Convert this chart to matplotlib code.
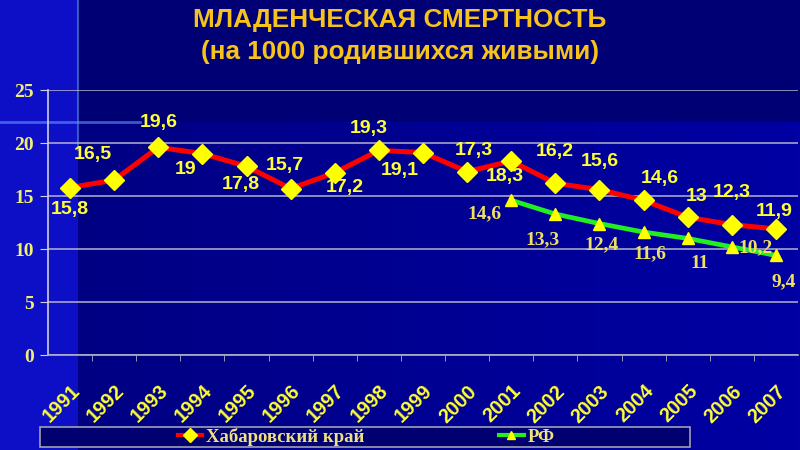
import matplotlib
matplotlib.use("Agg")
import numpy as np
import matplotlib.pyplot as plt
import matplotlib.transforms as mtrans
from matplotlib.lines import Line2D
from matplotlib.patches import Rectangle

years = ["1991", "1992", "1993", "1994", "1995", "1996", "1997", "1998", "1999",
         "2000", "2001", "2002", "2003", "2004", "2005", "2006", "2007"]
khab = [15.8, 16.5, 19.6, 19.0, 17.8, 15.7, 17.2, 19.3, 19.1,
        17.3, 18.3, 16.2, 15.6, 14.6, 13.0, 12.3, 11.9]
rf_years = ["2001", "2002", "2003", "2004", "2005", "2006", "2007"]
rf = [14.6, 13.3, 12.4, 11.6, 11.0, 10.2, 9.4]
yticks = [0, 5, 10, 15, 20, 25]

# label offsets in pixels (dx, dy)
khab_off = [(0, -22), (-21, 26), (0, 25), (-17, -16), (-6, -18), (-6, 23), (10, -15), (-10, 22),
            (-23, -18), (7, 21), (-6, -15), (-1, 32), (0, 28), (16, 22), (9, 21), (0, 32), (-2, 17)]
rf_off = [(-27, -13), (-13, -26), (2, -21), (6, -22), (12, -25), (24, -1), (8, -26)]

def fmt(v):
    return ("%g" % v).replace(".", ",")

fig = plt.figure(figsize=(8, 4.5), dpi=100)
fig.patch.set_facecolor("#000080")

# background image (figure-wide)
bg = fig.add_axes([0, 0, 1, 1], zorder=-20)
bg.set_axis_off()
W, H = 800, 450
img = np.zeros((H, W, 3))
xs = np.linspace(0, 1, W)
base = np.stack([0.0 * xs, 0.0 * xs, 0.50 + 0.14 * xs], axis=1)
img[:, :, :] = base[None, :, :]
img[:122, 78:, :] = [0.0, 0.0, 0.46]
img[:, :78, :] = [0.05, 0.06, 0.78]
bg.imshow(img, extent=[0, 1, 0, 1], aspect="auto", interpolation="bilinear")
# lens flare glow
bg.plot([0, 140 / W], [1 - 122 / H, 1 - 122 / H], color="#6fa0ff", lw=2.0, alpha=0.55)
bg.plot([78 / W, 78 / W], [1.0, 1 - 150 / H], color="#6fa0ff", lw=1.5, alpha=0.5)
bg.set_xlim(0, 1)
bg.set_ylim(0, 1)

ax = fig.add_axes([0.06, 0.211, 0.9375, 0.589])
ax.patch.set_alpha(0)
x = list(range(len(years)))
rx = [years.index(y) for y in rf_years]

ax.plot(x, khab, color="#ff0000", lw=3.6, marker="D", ms=10, mfc="#ffff00",
        mec="#ffff00", zorder=5)
ax.plot(rx, rf, color="#22ee22", lw=3.4, marker="^", ms=8, mfc="#ffff00",
        mec="#ffff00", zorder=4)

for xi, v, (dx, dy) in zip(x, khab, khab_off):
    ax.annotate(fmt(v), (xi, v), xytext=(dx, dy), textcoords="offset pixels",
                ha="center", va="center", color="#ffff33", fontsize=14,
                fontweight="bold", family="Liberation Sans", zorder=6)
for xi, v, (dx, dy) in zip(rx, rf, rf_off):
    ax.annotate(fmt(v), (xi, v), xytext=(dx, dy), textcoords="offset pixels",
                ha="center", va="center", color="#f0e060", fontsize=14,
                fontweight="bold", family="Liberation Serif", zorder=6)

ax.set_xlim(-0.5, len(years) - 0.5)
ax.set_ylim(0, 25)
ax.set_yticks(yticks)
ax.set_yticklabels([str(t) for t in yticks], color="#f0f070", fontsize=14,
                   fontweight="bold", family="Liberation Serif")
ax.grid(axis="y", color="#b4b4cc", lw=1.1)
ax.set_axisbelow(True)
for s in ["top", "right"]:
    ax.spines[s].set_visible(False)
ax.spines["left"].set_color("#d0d0e0")
ax.spines["left"].set_linewidth(1.2)
ax.spines["bottom"].set_color("#b0b0c8")
ax.spines["bottom"].set_linewidth(1.2)
ax.tick_params(axis="y", length=6, color="#d0d0e0", pad=4)
ax.set_xticks(x)
ax.set_xticks([i + 0.5 for i in range(len(years) - 1)], minor=True)
ax.set_xticklabels(years, rotation=45, ha="right", va="top",
                   rotation_mode="anchor", color="#ffff33", fontsize=14.3,
                   fontweight="bold", family="Liberation Sans")
off = mtrans.ScaledTranslation(-12 / 100, 0, fig.dpi_scale_trans)
for lab in ax.get_xticklabels():
    lab.set_transform(lab.get_transform() + off)
ax.tick_params(axis="x", which="major", length=0, pad=19)
ax.tick_params(axis="x", which="minor", length=4, color="#b0b0c8")

fig.text(0.5, 0.955, "МЛАДЕНЧЕСКАЯ СМЕРТНОСТЬ", ha="center", va="center",
         color="#f7c21a", fontsize=18.8, fontweight="bold", family="Liberation Sans")
fig.text(0.5, 0.884, "(на 1000 родившихся живыми)", ha="center", va="center",
         color="#f7c21a", fontsize=18.8, fontweight="bold", family="Liberation Sans")

# legend frame
fig.patches.append(Rectangle((0.05, 0.006), 0.812, 0.046, transform=fig.transFigure,
                             facecolor="#00006e", edgecolor="#a0a0b8", lw=1.2, zorder=1))
h1 = Line2D([], [], color="#ff0000", lw=3, marker="D", ms=7, mfc="#ffff00", mec="#ffff00")
h2 = Line2D([], [], color="#22ee22", lw=3, marker="^", ms=6, mfc="#ffff00", mec="#ffff00")
leg = fig.legend([h1, h2], ["Хабаровский край", "РФ"], ncol=2, loc="center",
                 bbox_to_anchor=(0.4575, 0.029), frameon=False, handlelength=1.3,
                 handletextpad=0.2, columnspacing=7.2,
                 prop={"family": "Liberation Serif", "weight": "bold", "size": 13.5})
for t in leg.get_texts():
    t.set_color("#f0e080")

fig.savefig("out.png", dpi=100, facecolor=fig.get_facecolor())
